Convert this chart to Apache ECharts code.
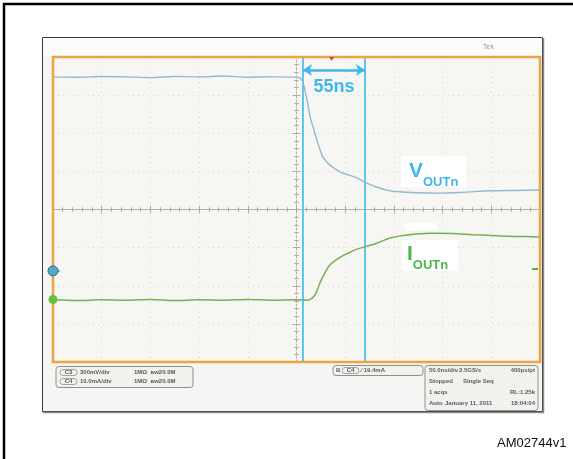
<!DOCTYPE html>
<html><head><meta charset="utf-8">
<script src="https://cdn.jsdelivr.net/npm/echarts@6/dist/echarts.min.js"></script>
<style>html,body{margin:0;padding:0;background:#fff}#c{width:573px;height:459px}</style>
</head><body><div id="c"></div>
<script>
// Time axis in ns (50 ns/div, 10 div), vertical in divisions (8 div)
const xTicks = [-250, -200, -150, -100, -50, 0, 50, 100, 150, 200, 250];
const voutTime = [-250,-225,-200,-175,-150,-125,-100,-75,-50,-25,0,4,7,11,14,18,21,24,27,31,34,40,45,53,62,70,82,96,109,125,147,170,199,225,250];
const voutDiv  = [3.48,3.47,3.49,3.48,3.46,3.49,3.48,3.50,3.47,3.48,3.47,3.44,3.30,2.85,2.43,2.08,1.82,1.58,1.38,1.25,1.17,1.06,0.98,0.91,0.83,0.72,0.59,0.49,0.46,0.44,0.43,0.45,0.49,0.50,0.51];
const ioutTime = [-250,-225,-200,-175,-150,-125,-100,-75,-50,-25,0,10,14,19,24,29,34,45,55,62,70,83,96,113,137,160,181,200,216,235,250];
const ioutDiv  = [-2.36,-2.39,-2.37,-2.38,-2.36,-2.39,-2.37,-2.38,-2.36,-2.38,-2.37,-2.38,-2.36,-2.24,-1.93,-1.67,-1.46,-1.25,-1.12,-1.04,-0.98,-0.88,-0.75,-0.67,-0.62,-0.63,-0.66,-0.68,-0.70,-0.71,-0.72];
const cursors = [6.7, 70.3];
const arrowLevel = 3.66;
const ch1Marker = -1.61;
const trigLevel = -1.56;
const trigTime = 36;

const zip = (a, b) => a.map((v, i) => [v, b[i]]);

const chart = echarts.init(document.getElementById('c'));
const G = {left: 53, top: 57, width: 487, height: 305};
const tickCol = '#c9b9a4';
function xa(pos, extra) {
  return Object.assign({
    type: 'value', min: -250, max: 250, interval: 50, position: pos,
    axisLine: {show: false}, axisLabel: {show: false},
    axisTick: {show: true, inside: true, length: 4, lineStyle: {color: tickCol}},
    minorTick: {show: true, splitNumber: 5, length: 2, lineStyle: {color: tickCol}},
    splitLine: {show: false}
  }, extra || {});
}
function ya(pos, extra) {
  return Object.assign({
    type: 'value', min: -4, max: 4, interval: 1, position: pos,
    axisLine: {show: false}, axisLabel: {show: false},
    axisTick: {show: true, inside: true, length: 4, lineStyle: {color: tickCol}},
    minorTick: {show: true, splitNumber: 5, length: 2, lineStyle: {color: tickCol}},
    splitLine: {show: false}
  }, extra || {});
}
const midTick = {color: '#a9a6a2'};
const tiny = {fontSize: 6, fontWeight: 'bold', fill: '#5a5a5a', fontFamily: 'Liberation Sans'};
function t(x, y, s, align) {
  return {type: 'text', x: x, y: y, z: 50, style: Object.assign({text: s, align: align || 'left', verticalAlign: 'middle'}, tiny)};
}
const option = {
  animation: false,
  grid: Object.assign({show: true, backgroundColor: '#f8f6f3', borderColor: '#e9a94a', borderWidth: 2}, G),
  xAxis: [
    xa('bottom', {splitLine: {show: true, lineStyle: {color: '#dcd7d1', type: [1, 4]}}}),
    xa('top'),
    xa('bottom', {offset: -152.5, axisLine: {show: true, onZero: false, lineStyle: {color: '#b4b0ab', width: 1}}, axisTick: {show: true, inside: true, length: 3, lineStyle: midTick}, minorTick: {show: true, splitNumber: 5, length: 2, lineStyle: midTick}}),
    xa('top', {offset: -152.5, axisTick: {show: true, inside: true, length: 3, lineStyle: midTick}, minorTick: {show: true, splitNumber: 5, length: 2, lineStyle: midTick}})
  ],
  yAxis: [
    ya('left', {splitLine: {show: true, lineStyle: {color: '#dcd7d1', type: [1, 4]}}}),
    ya('right'),
    ya('left', {offset: -243.5, axisLine: {show: true, onZero: false, lineStyle: {color: '#b4b0ab', width: 1, type: [2, 2]}}, axisTick: {show: true, inside: true, length: 3, lineStyle: midTick}, minorTick: {show: true, splitNumber: 5, length: 2, lineStyle: midTick}}),
    ya('right', {offset: -243.5, axisTick: {show: true, inside: true, length: 3, lineStyle: midTick}, minorTick: {show: true, splitNumber: 5, length: 2, lineStyle: midTick}})
  ],
  series: [
    {
      name: 'VOUTn', type: 'line', data: zip(voutTime, voutDiv), symbol: 'none', smooth: 0.3,
      lineStyle: {color: '#8dbccb', width: 1.4}, z: 5,
      markLine: {
        silent: true, symbol: 'none', label: {show: false},
        lineStyle: {color: '#5cc7ef', width: 2, type: 'solid'},
        data: cursors.map(c => ({xAxis: c}))
      },
      markPoint: {
        silent: true, label: {show: false}, z: 45,
        data: [
          {coord: [-250, ch1Marker], symbol: 'triangle', symbolRotate: -90, symbolSize: [6, 6], symbolOffset: [5, 0], itemStyle: {color: '#6fc0dc'}},
          {coord: [-250, ch1Marker], symbol: 'circle', symbolSize: 10, itemStyle: {color: '#58a9c6', borderColor: '#2e6a80', borderWidth: 1}}
        ]
      }
    },
    {
      name: 'IOUTn', type: 'line', data: zip(ioutTime, ioutDiv), symbol: 'none', smooth: 0.3,
      lineStyle: {color: '#72b052', width: 1.5}, z: 5,
      markLine: {
        silent: true, symbol: ['arrow', 'arrow'], symbolSize: [9, 9], label: {show: false},
        lineStyle: {color: '#3db7ec', width: 2.5, type: 'solid'},
        data: [[{coord: [cursors[0], arrowLevel]}, {coord: [cursors[1], arrowLevel]}]]
      },
      markPoint: {
        silent: true, label: {show: false}, z: 45,
        data: [
          {coord: [-250, ioutDiv[0]], symbol: 'circle', symbolSize: 9, itemStyle: {color: '#63c142'}},
          {coord: [245, trigLevel], symbol: 'rect', symbolSize: [6, 2], itemStyle: {color: '#63a742'}},
          {coord: [trigTime, 4], symbol: 'triangle', symbolRotate: 180, symbolSize: [5, 4], symbolOffset: [0, 2], itemStyle: {color: '#e0403a'}}
        ]
      }
    }
  ],
  graphic: [
    {type: 'polyline', z: -5, shape: {points: [[4, 459], [4, 4], [573, 4]]}, style: {stroke: '#000', lineWidth: 2.5, fill: null}},
    {type: 'rect', z: -5, shape: {x: 42.5, y: 37.5, width: 500, height: 374}, style: {fill: '#f7f5f3', stroke: '#3a3a3a', lineWidth: 1}},
    {type: 'polyline', z: -5, shape: {points: [[543.5, 38], [543.5, 412.5], [43, 412.5]]}, style: {stroke: '#8a8a8a', lineWidth: 1.5, fill: null}},
    {type: 'rect', z: -4, shape: {x: 43, y: 38, width: 499, height: 18}, style: {fill: '#fbfbfa'}},
    {type: 'rect', z: 30, silent: true, shape: {x: G.left, y: G.top, width: G.width, height: G.height}, style: {fill: null, stroke: '#e8a646', lineWidth: 2.5}},
    {type: 'text', x: 483, y: 47, z: 50, style: {text: 'Tek', fontSize: 7, fill: '#9a9a9a', fontFamily: 'Liberation Sans', verticalAlign: 'middle'}},
    {type: 'text', x: 334, y: 87, z: 60, style: {text: '55ns', fontSize: 18, fontWeight: 'bold', fill: '#3db7ec', fontFamily: 'Liberation Sans', align: 'center', verticalAlign: 'middle'}},
    {type: 'rect', z: 55, shape: {x: 401, y: 156, width: 65, height: 31}, style: {fill: '#ffffff'}},
    {type: 'text', x: 409, y: 182, z: 60, style: {
      text: '{a|V}{b|OUTn}', verticalAlign: 'bottom',
      rich: {a: {fontSize: 21, fontWeight: 'bold', fill: '#3db7ec', fontFamily: 'Liberation Sans', verticalAlign: 'bottom'},
             b: {fontSize: 13, fontWeight: 'bold', fill: '#3db7ec', fontFamily: 'Liberation Sans', padding: [0, 0, -7, 0], verticalAlign: 'bottom'}}}},
    {type: 'rect', z: 55, shape: {x: 405, y: 223, width: 32, height: 7}, style: {fill: '#ffffff'}},
    {type: 'rect', z: 55, shape: {x: 402, y: 240, width: 56, height: 31}, style: {fill: '#ffffff'}},
    {type: 'text', x: 407, y: 265, z: 60, style: {
      text: '{a|I}{b|OUTn}', verticalAlign: 'bottom',
      rich: {a: {fontSize: 21, fontWeight: 'bold', fill: '#4cb748', fontFamily: 'Liberation Sans', verticalAlign: 'bottom'},
             b: {fontSize: 13, fontWeight: 'bold', fill: '#4cb748', fontFamily: 'Liberation Sans', padding: [0, 0, -7, 0], verticalAlign: 'bottom'}}}},
    // info boxes
    {type: 'rect', z: 40, shape: {x: 56, y: 366.5, width: 137, height: 21, r: 3}, style: {fill: '#f3f1ee', stroke: '#8f8f8f', lineWidth: 1}},
    {type: 'rect', z: 41, shape: {x: 60, y: 369.5, width: 17, height: 6, r: 3}, style: {fill: '#f3f1ee', stroke: '#8f8f8f', lineWidth: 0.8}},
    {type: 'rect', z: 41, shape: {x: 60, y: 378.5, width: 17, height: 6, r: 3}, style: {fill: '#f3f1ee', stroke: '#8f8f8f', lineWidth: 0.8}},
    t(68.5, 372.5, 'C3', 'center'), t(68.5, 381.5, 'C4', 'center'),
    t(80, 372.5, '300mV/div'), t(80, 381.5, '10.0mA/div'),
    t(134, 372.5, '1MΩ  ʙw20.0M'), t(134, 381.5, '1MΩ  ʙw20.0M'),
    {type: 'rect', z: 40, shape: {x: 333, y: 365.5, width: 90, height: 10, r: 3}, style: {fill: '#f3f1ee', stroke: '#8f8f8f', lineWidth: 1}},
    {type: 'rect', z: 41, shape: {x: 342, y: 367.5, width: 17, height: 6, r: 3}, style: {fill: '#f3f1ee', stroke: '#8f8f8f', lineWidth: 0.8}},
    t(336, 370.5, 'B'), t(350.5, 370.5, 'C4', 'center'), t(361, 370.5, '∕ 19.4mA'),
    {type: 'rect', z: 40, shape: {x: 425, y: 365.5, width: 113, height: 45, r: 3}, style: {fill: '#f3f1ee', stroke: '#8f8f8f', lineWidth: 1}},
    t(429, 370.5, '50.0ns/div'), t(459, 370.5, '2.5GS/s'), t(535, 370.5, '400ps/pt', 'right'),
    t(429, 381, 'Stopped'), t(463, 381, 'Single Seq'),
    t(429, 392, '1 acqs'), t(535, 392, 'RL:1.25k', 'right'),
    t(429, 403, 'Auto'), t(445, 403, 'January 11, 2011'), t(535, 403, '18:04:04', 'right'),
    {type: 'text', x: 497, y: 443, z: 50, style: {text: 'AM02744v1', fontSize: 13, fill: '#111', fontFamily: 'Liberation Sans', verticalAlign: 'middle'}}
  ]
};
chart.setOption(option);
</script></body></html>
